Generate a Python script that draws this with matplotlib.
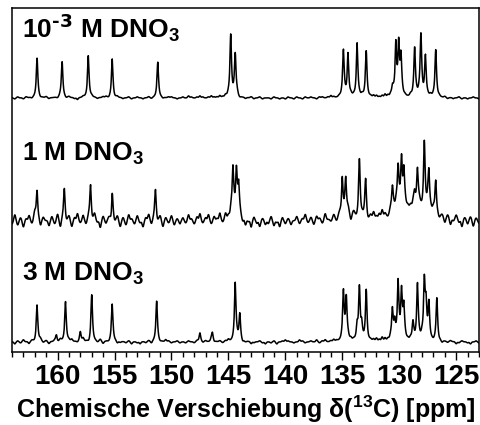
import numpy as np
import matplotlib
matplotlib.use("Agg")
import matplotlib.pyplot as plt
from matplotlib.ticker import MultipleLocator

plt.rcParams['font.family'] = 'Liberation Sans'
plt.rcParams['font.weight'] = 'bold'
plt.rcParams['mathtext.default'] = 'regular'

# ---- data (ppm, heights in plot units) ----
labels = [r"10$^{\text{-3}}$ M DNO$_3$", r"1 M DNO$_3$", r"3 M DNO$_3$"]
offsets = [254, 131, 10]

top_pos = [161.8, 159.6, 157.3, 155.2, 151.2, 144.8, 144.4, 134.9, 134.5, 133.7,
           132.9, 130.6, 130.3, 130.05, 129.85, 128.65, 128.1, 127.7, 126.8]
top_hgt = [39, 36, 43, 39, 35, 60, 42, 46, 41, 54,
           46, 8, 50, 50, 38, 49, 61, 39, 46]

mid_pos = [161.8, 159.4, 157.1, 155.2, 151.4, 144.6, 144.3, 144.1, 135.0, 134.7,
           133.5, 132.95, 130.6, 130.1, 129.8, 129.6, 128.65, 128.4, 127.8, 127.4, 126.8]
mid_hgt = [32, 32, 37, 34, 31, 46, 38, 30, 44, 34,
           52, 36, 24, 38, 48, 34, 12, 36, 64, 38, 34]
mid_hump_pos = [128.2, 130.0, 134.4, 144.4]
mid_hump_hgt = [12, 10, 6, 5]
mid_hump_wid = [1.2, 0.7, 0.7, 0.4]

bot_pos = [161.8, 160.1, 159.3, 158.0, 157.0, 155.2, 151.3, 147.5, 146.4, 144.4,
           144.0, 134.9, 134.65, 133.7, 133.5, 133.3, 132.9, 130.6, 130.4, 130.1,
           129.8, 129.6, 128.8, 128.4, 127.8, 127.65, 127.4, 126.7]
bot_hgt = [37, 7, 41, 9, 46, 37, 40, 9, 9, 58,
           28, 48, 42, 14, 50, 14, 51, 30, 16, 56,
           44, 32, 16, 56, 56, 32, 36, 43]

# baseline wiggle, one value every 0.25 ppm from 164 down to 123
top_noise = [0, -1, 1, 0, -1, 1, 0, -1, 0, 1, -1, 0, 1, -1, 0, 0, -1, 1, 0, -1,
             1, 0, -1, -2, 0, 1, 0, -1, 1, 0, -1, 0, 1, 1, -1, 0, -1, 1, 0, -1,
             0, 1, -1, 0, 1, 0, -1, 0, 1, -1, 0, 1, 0, -1, 0, 1, 1, 0, -1, 0,
             1, 0, 2, 1, 0, 1, 2, 1, 0, 1, 2, 1, 1, 2, 1, 2, 2, 3, 2, 3,
             -1, 0, -1, 0, 1, -1, 0, 1, -1, 0, 0, -1, 1, 0, -1, 0, -1, 1, 0, -1,
             1, 0, -1, 1, 0, 1, 0, -1, 1, 1, 0, 1, 2, 1, 0, 1, 2, 1, 2, 2,
             1, 0, 1, 2, 1, 0, 1, 2, 2, 1, 2, 3, 2, 2, 3, 2, 1, 2, 1, 0,
             2, 1, 2, 3, 2, 2, 1, 2, 1, 2, 1, 0, 1, -1, 0, -1, 0, 1, -1, 0, -1, 0, 1, 0, -1]
mid_noise = [-3, 6, -4, 3, -6, 2, 5, -3, 7, -2, -6, 3, 0, -5, 4, -3, 6, -7, 2, -3,
             4, -6, 3, 7, -2, 5, -4, 3, -3, 6, -2, -7, 4, -3, 2, -8, -3, 4, -6, 3,
             -4, 6, 2, -3, 5, -2, -6, 3, 6, -4, 2, -3, 4, -6, 3, -2, 5, -4, 2, -3,
             3, -2, 6, 2, -3, 4, 7, -2, 3, 6, -3, 4, 2, 7, -2, 6, 3, 8, 4, 7,
             3, -4, -6, -2, -7, 3, -3, -6, 2, -4, -3, 4, -5, -2, -6, 3, -3, 2, -4, 0,
             4, -3, 2, 6, -2, 3, -4, 4, 2, -3, 6, 0, -2, 4, -3, 3, -6, 2, 4, -7,
             3, -2, 6, 2, 4, -3, 3, 6, 2, 4, 7, 3, -2, 4, 3, 6, 2, -3, 4, 2,
             3, 6, 2, 4, -2, 3, 6, 2, 4, 0, -3, 2, -5, 3, -6, -2, 4, -3, -7, 2, -4, 3, -6, 2, -3]
bot_noise = [0, -2, 1, -1, 2, 0, -2, 1, -1, 0, 2, -1, 1, -2, 0, 1, -1, 2, 0, -1,
             1, 2, 0, -1, 1, 3, 0, -2, 1, 0, -1, 2, -2, 0, -1, 1, 0, -2, -1, 0,
             -1, 1, -2, 0, -1, -2, 0, -1, 1, -2, 0, 1, -1, 0, 2, 1, -1, 0, 1, -1,
             0, -1, 1, 0, -1, 1, 0, -1, 1, 0, 2, -1, 0, 1, -1, 1, 2, 0, 1, 2,
             -1, -2, -1, 0, -2, -1, 0, 1, -1, -2, 0, -1, 1, -2, 0, 1, 2, 1, 0, -1,
             0, 2, 1, -1, 0, 1, 0, 2, -1, 1, 2, 0, 1, 2, 1, 0, 2, 1, 3, 2,
             1, 0, 2, 1, 0, -1, 1, 2, 3, 2, 4, 3, 2, 3, 1, 2, 3, 4, 2, 1,
             2, 3, 1, 2, 4, 2, 1, 0, -1, 0, -1, -2, 0, -1, 1, 0, -2, -1, 1, 0, -1, -2, 0, 1, -1]

ppm = np.linspace(123, 164, 2051)


def build(pos, hgt, noise, hump_pos=(), hump_hgt=(), hump_wid=(), w=0.08):
    y = np.zeros_like(ppm)
    for p, h in zip(pos, hgt):
        y += h * w ** 2 / ((ppm - p) ** 2 + w ** 2)
    for p, h, hw in zip(hump_pos, hump_hgt, hump_wid):
        y += h * hw ** 2 / ((ppm - p) ** 2 + hw ** 2)
    npos = np.linspace(164, 123, len(noise))
    for p, n in zip(npos, noise):
        y += n * np.exp(-(ppm - p) ** 2 / (2 * 0.075 ** 2))
    return y


spectra = [
    build(top_pos, top_hgt, top_noise),
    build(mid_pos, mid_hgt, mid_noise, mid_hump_pos, mid_hump_hgt, mid_hump_wid),
    build(bot_pos, bot_hgt, bot_noise),
]

fig = plt.figure(figsize=(4.8, 4.25), dpi=100)
ax = fig.add_axes([12 / 480, 1 - 352 / 425, 467 / 480, 344 / 425])

for y, off in zip(spectra, offsets):
    ax.plot(ppm, y + off, color='black', lw=1.1)

ax.set_xlim(164, 123)
ax.set_ylim(0, 344)
ax.set_yticks([])
ax.set_xticks([160, 155, 150, 145, 140, 135, 130, 125])
ax.xaxis.set_minor_locator(MultipleLocator(1))
ax.tick_params(axis='x', which='major', length=6, width=1, direction='out',
               labelsize=20, pad=3)
ax.tick_params(axis='x', which='minor', length=3.5, width=1, direction='out')
for s in ax.spines.values():
    s.set_linewidth(1.1)

ax.set_xlabel(r"Chemische Verschiebung δ($^{13}$C) [ppm]", fontsize=18,
              fontweight='bold', labelpad=2)

for txt, yb in zip(labels, [38, 161, 281]):
    fig.text(22 / 480, 1 - yb / 425, txt, fontsize=19, fontweight='bold',
             va='baseline', ha='left')

fig.savefig("out.png", dpi=100)
